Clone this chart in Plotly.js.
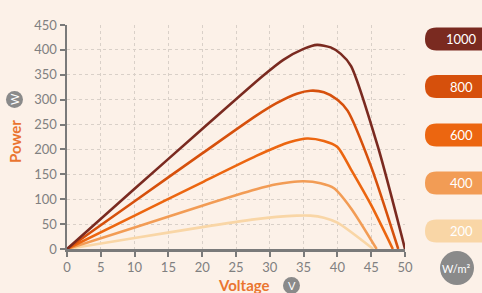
<!DOCTYPE html>
<html><head><meta charset="utf-8">
<script src="https://cdn.plot.ly/plotly-3.0.1.min.js"></script>
<style>html,body{margin:0;padding:0;background:#fcf1e8;}#chart{width:482px;height:293px;}</style>
</head><body><div id="chart"></div>
<script>
const irradiance = ['1000','800','600','400','200'];
const colors = ['#7a2a20','#d6500c','#ec6610','#f29c55','#f9d6a6'];
const v1000 = [0,10,20,29,32,35,37,39,40.5,42,46,50];
const p1000 = [0,121,241,348,380,402,410,405,392,368,205,0];
const v800 = [0,10,20,28,31,34,36,38,40,41.5,45,49];
const p800 = [0,96,192,268,293,312,318,315,300,278,165,0];
const v600 = [0,10,20,28,31,33,35.5,38,40,42,45,48.2];
const p600 = [0,67,134,187,205,215,222,217,205,160,88,0];
const v400 = [0,10,20,28,31,33,35,37.5,39.5,42,45.8];
const p400 = [0,43,87,120,130,134,136,132,122,82,0];
const v200 = [0,10,20,28,31,34,36,38,40,45.3];
const p200 = [0,22,44,60,64.5,67,67,63,53,0];
const xTicks = [0,5,10,15,20,25,30,35,40,45,50];
const yTicks = [0,50,100,150,200,250,300,350,400,450];

const series = [[v1000,p1000],[v800,p800],[v600,p600],[v400,p400],[v200,p200]];
const traces = series.map((s,i)=>({
  x:s[0], y:s[1], type:'scatter', mode:'lines', name:irradiance[i],
  line:{color:colors[i], width:2.6, shape:'spline', smoothing:0.7},
  hoverinfo:'skip'
})).reverse();

const gray = '#7a7a7a';
const font = 'Lato, "Open Sans", sans-serif';
const shapes = [];
const annotations = [];
const pxp = x => (x-67)/338, pyp = y => 1-(y-25)/224;
const pillY = [39, 86.5, 135, 183, 231];
function pillPath(i){
  const yc = pillY[i], hh = 11.5, x0 = 425, x1 = 495, r = 11.5;
  const px = x => pxp(x).toFixed(4);
  const py = y => pyp(y).toFixed(4);
  return `M ${px(x0+r)} ${py(yc-hh)} L ${px(x1)} ${py(yc-hh)} L ${px(x1)} ${py(yc+hh)} L ${px(x0+r)} ${py(yc+hh)} `+
    `Q ${px(x0)} ${py(yc+hh)} ${px(x0)} ${py(yc)} Q ${px(x0)} ${py(yc-hh)} ${px(x0+r)} ${py(yc-hh)} Z`;
}
irradiance.forEach((lab,i)=>{
  shapes.push({type:'path', xref:'paper', yref:'paper', layer:'above',
    path: pillPath(i), fillcolor:colors[i], line:{width:0}});
  annotations.push({xref:'paper', yref:'paper', x:pxp(461), y:pyp(pillY[i]), text:lab,
    showarrow:false, font:{family:font, size:13, color:'#ffffff'}, xanchor:'center', yanchor:'middle'});
});
// W/m² circle
shapes.push({type:'circle', xref:'paper', yref:'paper', x0:pxp(440), x1:pxp(474), y0:pyp(285), y1:pyp(251), fillcolor:'#8a8a8a', line:{width:0}});
annotations.push({xref:'paper', yref:'paper', x:pxp(457), y:pyp(268), text:'W/m²', showarrow:false,
  font:{family:font, size:11, color:'#ffffff'}, xanchor:'center', yanchor:'middle'});
// W circle by y-title
shapes.push({type:'circle', xref:'paper', yref:'paper', x0:pxp(6), x1:pxp(23), y0:pyp(108), y1:pyp(91), fillcolor:'#8a8a8a', line:{width:0}});
annotations.push({xref:'paper', yref:'paper', x:pxp(14.5), y:pyp(99.5), text:'W', showarrow:false, textangle:-90,
  font:{family:font, size:11, color:'#ffffff'}, xanchor:'center', yanchor:'middle'});
annotations.push({xref:'paper', yref:'paper', x:pxp(15), y:pyp(142), text:'<b>Power</b>', showarrow:false, textangle:-90,
  font:{family:font, size:15, color:'#ea7530'}, xanchor:'center', yanchor:'middle'});
// V circle by x-title
shapes.push({type:'circle', xref:'paper', yref:'paper', x0:pxp(283), x1:pxp(300), y0:pyp(294), y1:pyp(277), fillcolor:'#8a8a8a', line:{width:0}});
annotations.push({xref:'paper', yref:'paper', x:pxp(291.5), y:pyp(285.5), text:'V', showarrow:false,
  font:{family:font, size:11, color:'#ffffff'}, xanchor:'center', yanchor:'middle'});
annotations.push({xref:'paper', yref:'paper', x:pxp(244), y:pyp(285), text:'<b>Voltage</b>', showarrow:false,
  font:{family:font, size:15, color:'#ea7530'}, xanchor:'center', yanchor:'middle'});

const axisCommon = {
  showline:true, linecolor:gray, linewidth:2.5, ticks:'outside', ticklen:5, tickwidth:2, tickcolor:gray,
  showgrid:true, gridcolor:'#d9d0c8', griddash:'dot', gridwidth:1, zeroline:false,
  tickfont:{family:font, size:13, color:'#808080'}, fixedrange:true
};
const layout = {
  width:482, height:293, margin:{l:67, r:77, t:25, b:44},
  paper_bgcolor:'#fcf1e8', plot_bgcolor:'#fcf1e8', showlegend:false,
  xaxis:Object.assign({}, axisCommon, {range:[0,50], tickvals:xTicks, ticktext:xTicks.map(String)}),
  yaxis:Object.assign({}, axisCommon, {range:[0,450], tickvals:yTicks, ticktext:yTicks.map(String)}),
  shapes:shapes, annotations:annotations
};
Plotly.newPlot('chart', traces, layout, {displayModeBar:false, staticPlot:true});
</script></body></html>
